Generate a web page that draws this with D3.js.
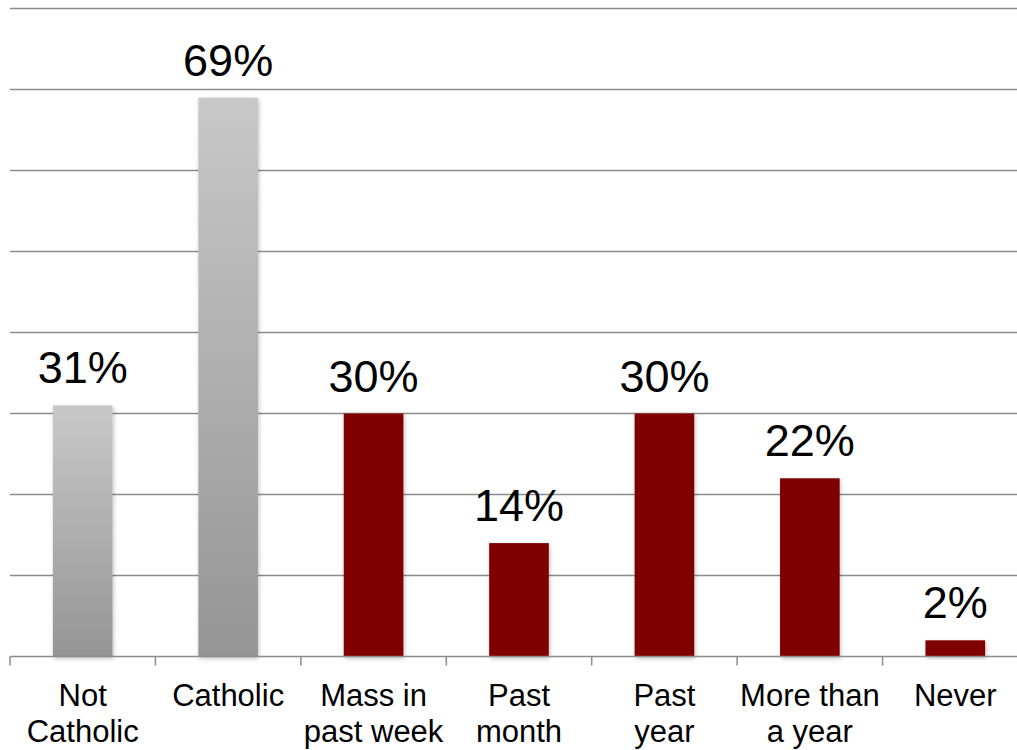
<!DOCTYPE html>
<html><head><meta charset="utf-8">
<script src="https://cdn.jsdelivr.net/npm/d3@7"></script>
<style>html,body{margin:0;padding:0;background:#fff;overflow:hidden}svg{display:block}</style>
</head><body>
<svg id="c" width="1017" height="750"></svg>
<script>
const categories = ["Not\nCatholic","Catholic","Mass in\npast week","Past\nmonth","Past\nyear","More than\na year","Never"];
const values = [31, 69, 30, 14, 30, 22, 2];
const kinds = ["gray","gray","red","red","red","red","red"];
const gridTicks = [0,10,20,30,40,50,60,70,80];

const svg = d3.select("#c");
const font = "'Liberation Sans', Arial, sans-serif";
const x = d3.scaleBand().domain(categories).range([10, 1028]).padding(0);
const y = d3.scaleLinear().domain([0, 80]).range([656.5, 8.5]);

const defs = svg.append("defs");
const g = defs.append("linearGradient").attr("id","gray").attr("x1",0).attr("y1",0).attr("x2",0).attr("y2",1);
g.append("stop").attr("offset","0%").attr("stop-color","#c8c8c8");
g.append("stop").attr("offset","100%").attr("stop-color","#959595");
const f = defs.append("filter").attr("id","sh").attr("x","-20%").attr("y","-20%").attr("width","140%").attr("height","140%");
f.append("feDropShadow").attr("dx",1).attr("dy",2).attr("stdDeviation",2).attr("flood-color","#000").attr("flood-opacity",0.25);

// gridlines
svg.append("g").selectAll("line").data(gridTicks.filter(d=>d>0)).join("line")
  .attr("x1",10).attr("x2",1017).attr("y1",d=>y(d)).attr("y2",d=>y(d))
  .attr("stroke","#8c8c8c").attr("stroke-width",1.5);

const bw = x.step()*0.41;
svg.append("g").selectAll("rect").data(values).join("rect")
  .attr("x",(d,i)=>x(categories[i]) + x.bandwidth()/2 - bw/2)
  .attr("width",bw)
  .attr("y",d=>y(d)).attr("height",d=>y(0)-y(d))
  .attr("fill",(d,i)=>kinds[i]==="gray"?"url(#gray)":"#800000")
  .attr("filter","url(#sh)");

// axis
const ax = d3.axisBottom(x).tickSize(0).tickFormat("");
const axg = svg.append("g").attr("transform",`translate(0,${y(0)})`).call(ax);
axg.select(".domain").attr("stroke","#8c8c8c").attr("stroke-width",1.5).attr("d","M10,0H1017");
const tickPos = d3.range(categories.length).map(i=>x(categories[i]));
axg.selectAll(".tk").data(tickPos).join("line").attr("class","tk")
  .attr("x1",d=>d).attr("x2",d=>d).attr("y1",0).attr("y2",9)
  .attr("stroke","#8c8c8c").attr("stroke-width",1.5);

// value labels
svg.append("g").selectAll("text").data(values).join("text")
  .attr("x",(d,i)=>x(categories[i]) + x.bandwidth()/2)
  .attr("y",d=>y(d)-22)
  .attr("text-anchor","middle").attr("font-family",font).attr("font-size",45).attr("fill","#000")
  .text(d=>d+"%");

// category labels
const cl = svg.append("g").selectAll("text").data(categories).join("text")
  .attr("x",d=>x(d)+x.bandwidth()/2).attr("y",706)
  .attr("text-anchor","middle").attr("font-family",font).attr("font-size",31).attr("fill","#000");
cl.each(function(d){
  const t = d3.select(this);
  d.split("\n").forEach((line,i)=>{
    t.append("tspan").attr("x",x(d)+x.bandwidth()/2).attr("dy",i===0?0:36).text(line);
  });
});
</script>
</body></html>
